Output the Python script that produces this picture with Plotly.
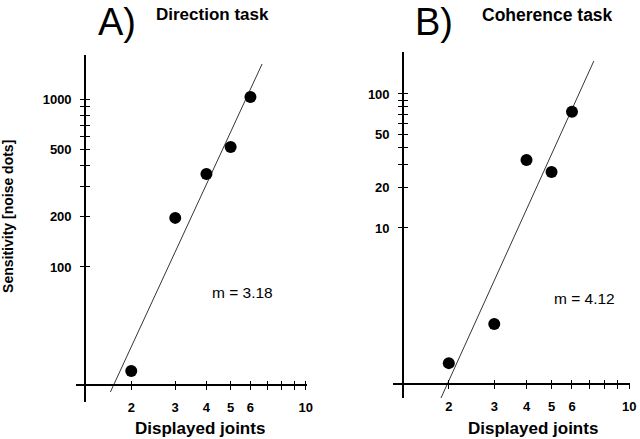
import plotly.graph_objects as go

# ---------------- data ----------------
joints = [2, 3, 4, 5, 6]
direction_sens = [24, 196, 358, 518, 1028]
coherence_sens = [0.98, 1.92, 32.2, 26.2, 73.5]

dir_fit_x = [1.65, 6.68]
dir_fit_y = [18.0, 1616]
coh_fit_x = [1.85, 7.29]
coh_fit_y = [0.52, 176]

x_tickvals = [2, 3, 4, 5, 6, 7, 8, 9, 10]
x_ticktext = ["2", "3", "4", "5", "6", "", "", "", "10"]
yA_tickvals = [100, 200, 300, 400, 500, 600, 700, 800, 900, 1000]
yA_ticktext = ["100", "200", "", "", "500", "", "", "", "", "1000"]
yB_tickvals = [10, 20, 30, 40, 50, 60, 70, 80, 90, 100]
yB_ticktext = ["10", "20", "", "", "50", "", "", "", "", "100"]

slopes = ["m = 3.18", "m = 4.12"]
panel_labels = ["A)", "B)"]
panel_titles = ["Direction task", "Coherence task"]
x_title = "Displayed joints"
y_title = "Sensitivity [noise dots]"

W, H = 640, 439
FONT = "Arial, Liberation Sans, Helvetica, sans-serif"

def px(x):
    return x / W

def py(y):
    return 1 - y / H

fig = go.Figure()

fig.add_trace(go.Scatter(x=joints, y=direction_sens, mode="markers",
                         marker=dict(size=12, color="black"),
                         xaxis="x", yaxis="y", showlegend=False, cliponaxis=False))
fig.add_trace(go.Scatter(x=dir_fit_x, y=dir_fit_y, mode="lines",
                         line=dict(color="black", width=0.8),
                         xaxis="x", yaxis="y", showlegend=False))
fig.add_trace(go.Scatter(x=joints, y=coherence_sens, mode="markers",
                         marker=dict(size=12, color="black"),
                         xaxis="x2", yaxis="y2", showlegend=False, cliponaxis=False))
fig.add_trace(go.Scatter(x=coh_fit_x, y=coh_fit_y, mode="lines",
                         line=dict(color="black", width=0.8),
                         xaxis="x2", yaxis="y2", showlegend=False))
# dummy traces to activate overlay axes (for crossing ticks)
fig.add_trace(go.Scatter(x=[None], y=[None], xaxis="x3", yaxis="y3", showlegend=False))
fig.add_trace(go.Scatter(x=[None], y=[None], xaxis="x4", yaxis="y4", showlegend=False))

xA_range = [0.081, 1.005]
yA_range = [1.196, 3.262]
xB_range = [0.086, 1.003]
yB_range = [-0.269, 2.313]

tickfont = dict(family=FONT, size=13, color="black", weight="bold")

def xaxis_cfg(rng, dom, pos, inside=False):
    d = dict(type="log", range=rng, anchor="free", position=pos,
             tickvals=x_tickvals, ticktext=x_ticktext,
             ticks="inside" if inside else "outside", ticklen=4, tickwidth=1,
             tickcolor="black", showgrid=False, zeroline=False,
             tickfont=tickfont, ticklabelstandoff=6)
    if inside:
        d.update(showline=False, showticklabels=False)
    else:
        d.update(domain=dom, showline=True, linecolor="black", linewidth=2)
    return d

def yaxis_cfg(rng, dom, pos, vals, text, inside=False):
    d = dict(type="log", range=rng, anchor="free", position=pos,
             tickvals=vals, ticktext=text,
             ticks="inside" if inside else "outside", ticklen=4, tickwidth=1,
             tickcolor="black", showgrid=False, zeroline=False,
             tickfont=tickfont, ticklabelstandoff=6)
    if inside:
        d.update(showline=False, showticklabels=False)
    else:
        d.update(domain=dom, showline=True, linecolor="black", linewidth=2)
    return d

fig.update_layout(
    width=W, height=H,
    margin=dict(l=0, r=0, t=0, b=0),
    plot_bgcolor="white", paper_bgcolor="white",
    xaxis=xaxis_cfg(xA_range, [px(77), px(310)], py(385)),
    yaxis=yaxis_cfg(yA_range, [py(402), py(55)], px(86), yA_tickvals, yA_ticktext),
    xaxis2=xaxis_cfg(xB_range, [px(397), px(636)], py(384)),
    yaxis2=yaxis_cfg(yB_range, [py(398), py(52)], px(407), yB_tickvals, yB_ticktext),
    xaxis3=dict(xaxis_cfg(xA_range, None, py(385), inside=True), overlaying="x"),
    yaxis3=dict(yaxis_cfg(yA_range, None, px(86), yA_tickvals, yA_ticktext, inside=True), overlaying="y"),
    xaxis4=dict(xaxis_cfg(xB_range, None, py(384), inside=True), overlaying="x2"),
    yaxis4=dict(yaxis_cfg(yB_range, None, px(407), yB_tickvals, yB_ticktext, inside=True), overlaying="y2"),
)

ann = []
ann.append(dict(x=px(118), y=py(22), text=panel_labels[0], font=dict(family=FONT, size=38, color="black")))
ann.append(dict(x=px(438), y=py(22), text=panel_labels[1], font=dict(family=FONT, size=38, color="black")))
ann.append(dict(x=px(215), y=py(15), text=panel_titles[0], font=dict(family=FONT, size=17, color="black", weight="bold")))
ann.append(dict(x=px(553), y=py(15), text=panel_titles[1], font=dict(family=FONT, size=17.5, color="black", weight="bold")))
ann.append(dict(x=px(245), y=py(292), text=slopes[0], font=dict(family=FONT, size=15.5, color="black")))
ann.append(dict(x=px(590), y=py(298), text=slopes[1], font=dict(family=FONT, size=15.5, color="black")))
ann.append(dict(x=px(202), y=py(428), text=x_title, font=dict(family=FONT, size=17, color="black", weight="bold")))
ann.append(dict(x=px(538), y=py(428), text=x_title, font=dict(family=FONT, size=17, color="black", weight="bold")))
ann.append(dict(x=px(8), y=py(216), text=y_title, textangle=-90,
                font=dict(family=FONT, size=14, color="black", weight="bold")))

for a in ann:
    a.update(xref="paper", yref="paper", showarrow=False, xanchor="center", yanchor="middle")
fig.update_layout(annotations=ann)

fig.write_html("out.html", config={"displayModeBar": False},
               post_script="document.body.style.margin='0';document.body.style.overflow='hidden';")
